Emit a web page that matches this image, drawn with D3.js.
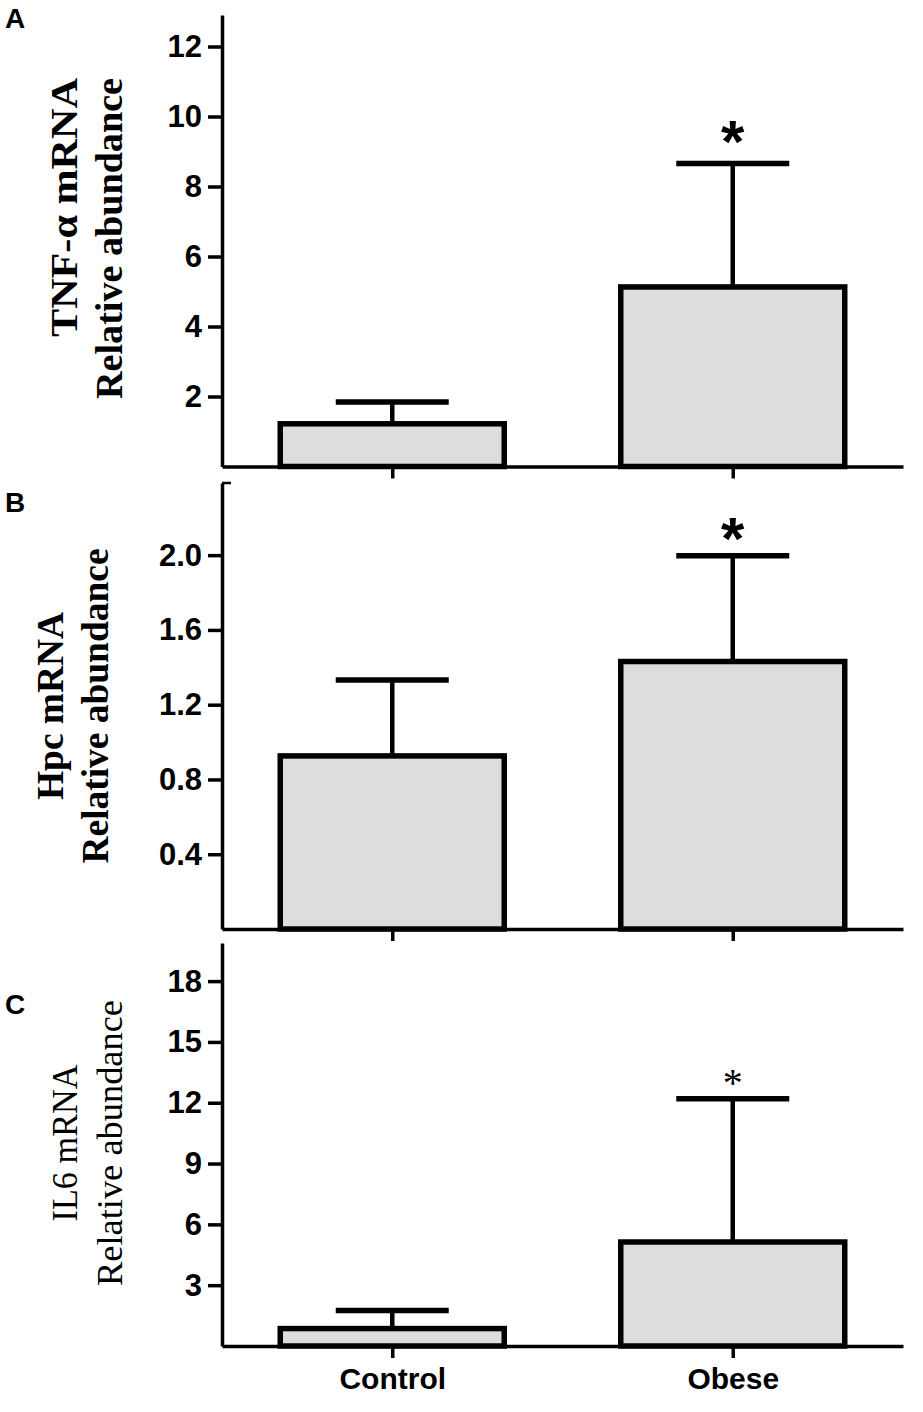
<!DOCTYPE html>
<html>
<head>
<meta charset="utf-8">
<script src="https://cdn.jsdelivr.net/npm/d3@7"></script>
<style>
  body { margin: 0; background: #fff; }
  svg { display: block; }
</style>
</head>
<body>
<div id="chart"></div>
<script>
// data
let groups = ["Control", "Obese"];
let starred = [false, true];

let tnfMean = [1.22, 5.13];
let tnfSd = [0.62, 3.53];
let tnfTicks = [2, 4, 6, 8, 10, 12];

let hpcMean = [0.926, 1.431];
let hpcSd = [0.406, 0.566];
let hpcTicks = [0.4, 0.8, 1.2, 1.6, 2.0];

let il6Mean = [0.86, 5.13];
let il6Sd = [0.89, 7.07];
let il6Ticks = [3, 6, 9, 12, 15, 18];

let sans = "'Liberation Sans', Arial, sans-serif";
let serif = "'Liberation Serif', 'Times New Roman', serif";

let svg = d3.select("#chart").append("svg")
  .attr("width", 923)
  .attr("height", 1412);

svg.append("rect").attr("width", 923).attr("height", 1412).attr("fill", "#fff");

let x = d3.scalePoint()
  .domain(groups)
  .range([222, 903])
  .padding(0.5);

let barW = 224;
let capW = 113;

// panel settings (layout only, values come from arrays above)
let panels = [
  { letter: "A", letterY: 28, mean: tnfMean, sd: tnfSd, ticks: tnfTicks, fmt: d3.format("d"),
    y: d3.scaleLinear().domain([0, 12.9]).range([466.5, 15]),
    lines: ["TNF-\u03b1 mRNA", "Relative abundance"], bold: true, fs: 38,
    labX: [77, 122], labY: 78, anchor: "end", lens: [259, 321],
    star: { font: sans, weight: "bold", size: 60, off: -1 }, topTick: false, catLabels: false },
  { letter: "B", letterY: 512, mean: hpcMean, sd: hpcSd, ticks: hpcTicks, fmt: d3.format(".1f"),
    y: d3.scaleLinear().domain([0, 2.386]).range([929, 483]),
    lines: ["Hpc mRNA", "Relative abundance"], bold: true, fs: 37,
    labX: [63, 108], labY: 706, anchor: "middle", lens: [188, 315],
    star: { font: sans, weight: "bold", size: 60, off: 3 }, topTick: true, catLabels: false },
  { letter: "C", letterY: 1014, mean: il6Mean, sd: il6Sd, ticks: il6Ticks, fmt: d3.format("d"),
    y: d3.scaleLinear().domain([0, 19.88]).range([1346, 943]),
    lines: ["IL6 mRNA", "Relative abundance"], bold: false, fs: 36,
    labX: [77, 122], labY: 1143, anchor: "middle", lens: [157, 286],
    star: { font: serif, weight: "normal", size: 40, off: -3 }, topTick: false, catLabels: true }
];

panels.forEach(function (p) {
  let g = svg.append("g");
  let base = p.y(0);

  // panel letter
  g.append("text")
    .attr("x", 5).attr("y", p.letterY)
    .style("font-family", sans).style("font-weight", "bold").style("font-size", "28px")
    .text(p.letter);

  // rotated y label (two lines)
  p.lines.forEach(function (t, i) {
    g.append("text")
      .attr("transform", "translate(" + p.labX[i] + "," + p.labY + ") rotate(-90)")
      .attr("text-anchor", p.anchor)
      .attr("textLength", p.lens[i])
      .attr("lengthAdjust", "spacingAndGlyphs")
      .style("font-family", serif)
      .style("font-weight", p.bold ? "bold" : "normal")
      .style("font-size", p.fs + "px")
      .text(t);
  });

  let rows = groups.map(function (k, i) {
    return { key: k, mean: p.mean[i], sd: p.sd[i], star: starred[i] };
  });

  // bars
  g.selectAll("rect.bar")
    .data(rows)
    .enter()
    .append("rect")
    .attr("class", "bar")
    .attr("x", d => x(d.key) - barW / 2)
    .attr("y", d => p.y(d.mean))
    .attr("width", barW)
    .attr("height", d => base - p.y(d.mean))
    .style("fill", "#dddddd")
    .style("stroke", "black")
    .style("stroke-width", 5.5);

  // error bars, upper half only
  g.selectAll("line.err")
    .data(rows)
    .enter()
    .append("line")
    .attr("x1", d => x(d.key)).attr("x2", d => x(d.key))
    .attr("y1", d => p.y(d.mean)).attr("y2", d => p.y(d.mean + d.sd))
    .style("stroke", "black").style("stroke-width", 4.5);

  g.selectAll("line.cap")
    .data(rows)
    .enter()
    .append("line")
    .attr("x1", d => x(d.key) - capW / 2).attr("x2", d => x(d.key) + capW / 2)
    .attr("y1", d => p.y(d.mean + d.sd)).attr("y2", d => p.y(d.mean + d.sd))
    .style("stroke", "black").style("stroke-width", 5.5);

  // significance marks
  g.selectAll("text.star")
    .data(rows.filter(d => d.star))
    .enter()
    .append("text")
    .attr("x", d => x(d.key))
    .attr("y", d => p.y(d.mean + d.sd) + p.star.off)
    .attr("text-anchor", "middle")
    .style("font-family", p.star.font)
    .style("font-weight", p.star.weight)
    .style("font-size", p.star.size + "px")
    .text("*");

  // y axis
  let yAxis = g.append("g")
    .attr("transform", "translate(222,0)")
    .call(d3.axisLeft(p.y).tickValues(p.ticks).tickFormat(p.fmt)
      .tickSize(14).tickSizeOuter(0).tickPadding(6));
  yAxis.select(".domain").style("stroke-width", 3.5);
  yAxis.selectAll(".tick line").style("stroke-width", 3.5);
  yAxis.selectAll(".tick text")
    .style("font-family", sans).style("font-weight", "bold").style("font-size", "31px");

  if (p.topTick) {
    let top = p.y(p.y.domain()[1]);
    g.append("line")
      .attr("x1", 222).attr("x2", 231).attr("y1", top).attr("y2", top)
      .style("stroke", "black").style("stroke-width", 2.5);
  }

  // x axis
  let xAxis = g.append("g")
    .attr("transform", "translate(0," + base + ")")
    .call(d3.axisBottom(x).tickSize(12).tickSizeOuter(0).tickPadding(10)
      .tickFormat(p.catLabels ? null : ""));
  xAxis.select(".domain").style("stroke-width", 3.5);
  xAxis.selectAll(".tick line").style("stroke-width", 3.5);
  xAxis.selectAll(".tick text")
    .style("font-family", sans).style("font-weight", "bold").style("font-size", "30px");
});
</script>
</body>
</html>
